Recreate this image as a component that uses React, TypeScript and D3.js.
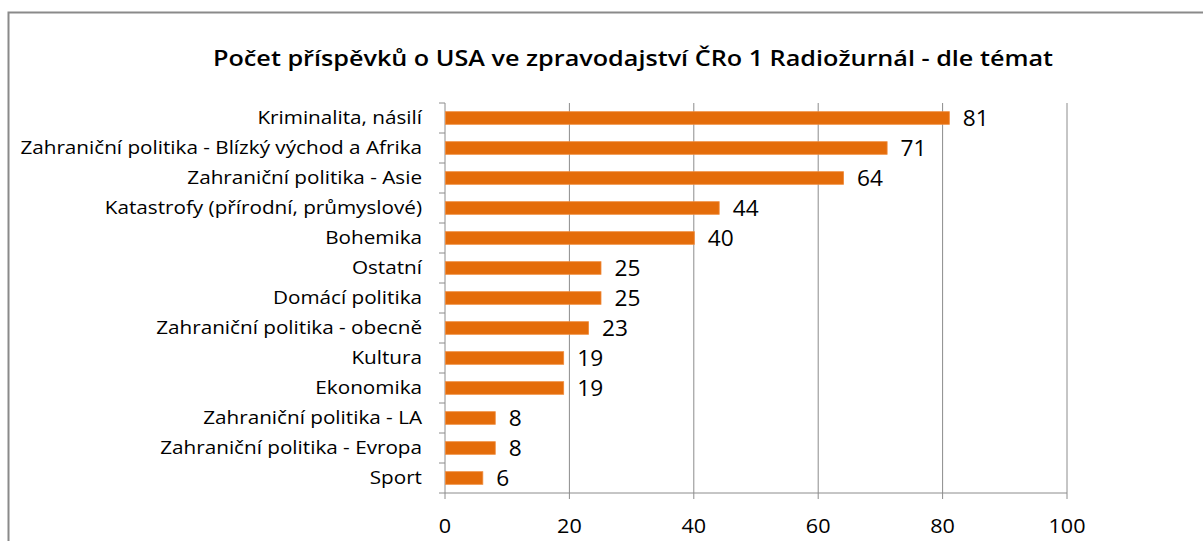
import React from "react";
import * as d3 from "d3";

const categories = [
  "Kriminalita, násilí",
  "Zahraniční politika - Blízký východ a Afrika",
  "Zahraniční politika - Asie",
  "Katastrofy (přírodní, průmyslové)",
  "Bohemika",
  "Ostatní",
  "Domácí politika",
  "Zahraniční politika - obecně",
  "Kultura",
  "Ekonomika",
  "Zahraniční politika - LA",
  "Zahraniční politika - Evropa",
  "Sport",
];
const values = [81, 71, 64, 44, 40, 25, 25, 23, 19, 19, 8, 8, 6];
const xTicks = [0, 20, 40, 60, 80, 100];
const title = "Počet příspěvků o USA ve zpravodajství ČRo 1 Radiožurnál - dle témat";

const W = 1203;
const H = 541;
const left = 445;
const right = 1067;
const top = 103;
const bottom = 493;
const font = "'Open Sans', 'DejaVu Sans', sans-serif";

export default function App() {
  const x = d3.scaleLinear().domain([0, 100]).range([left, right]);
  const y = d3.scaleBand().domain(categories).range([top, bottom]).paddingInner(0.58).paddingOuter(0.29);
  const step = y.step();
  const grid = "#8c8c8c";
  return (
    <svg width={W} height={H} style={{ position: "absolute", left: 0, top: 0 }} fontFamily={font}>
      <rect x={0} y={0} width={W} height={H} fill="#fff" />
      <rect x={8.5} y={12.5} width={W + 20} height={H + 20} fill="none" stroke="#8a8a8a" strokeWidth={2} />
      <text transform={`translate(633,66) scale(1.2,1)`} textAnchor="middle" fontSize={21} fontWeight={600} fill="#000">
        {title}
      </text>
      {xTicks.map((t) => (
        <g key={t}>
          {t > 0 && <line x1={x(t)} x2={x(t)} y1={top} y2={bottom} stroke={grid} strokeWidth={1} />}
          <line x1={x(t)} x2={x(t)} y1={bottom} y2={bottom + 6} stroke={grid} strokeWidth={1} />
          <text transform={`translate(${x(t)},533) scale(1.08,1)`} textAnchor="middle" fontSize={20} fill="#000">
            {t}
          </text>
        </g>
      ))}
      <line x1={left} x2={right} y1={bottom} y2={bottom} stroke={grid} strokeWidth={1} />
      <line x1={left} x2={left} y1={top} y2={bottom} stroke={grid} strokeWidth={1} />
      {d3.range(categories.length + 1).map((i) => (
        <line key={i} x1={left - 6} x2={left} y1={top + i * step} y2={top + i * step} stroke={grid} strokeWidth={1} />
      ))}
      {categories.map((c, i) => {
        const yy = y(c)!;
        const bw = y.bandwidth();
        const cy = yy + bw / 2;
        return (
          <g key={c}>
            <rect x={x(0) + 0.5} y={yy} width={x(values[i]) - x(0)} height={bw} fill="#E46C0A" stroke="#F08A3A" strokeWidth={0.8} />
            <text transform={`translate(422,${cy}) scale(1.15,1)`} dy="0.36em" textAnchor="end" fontSize={18} fill="#000">
              {c}
            </text>
            <text transform={`translate(${x(values[i]) + 14},${cy}) scale(1.08,1)`} dy="0.37em" fontSize={21} fill="#000">
              {values[i]}
            </text>
          </g>
        );
      })}
    </svg>
  );
}
